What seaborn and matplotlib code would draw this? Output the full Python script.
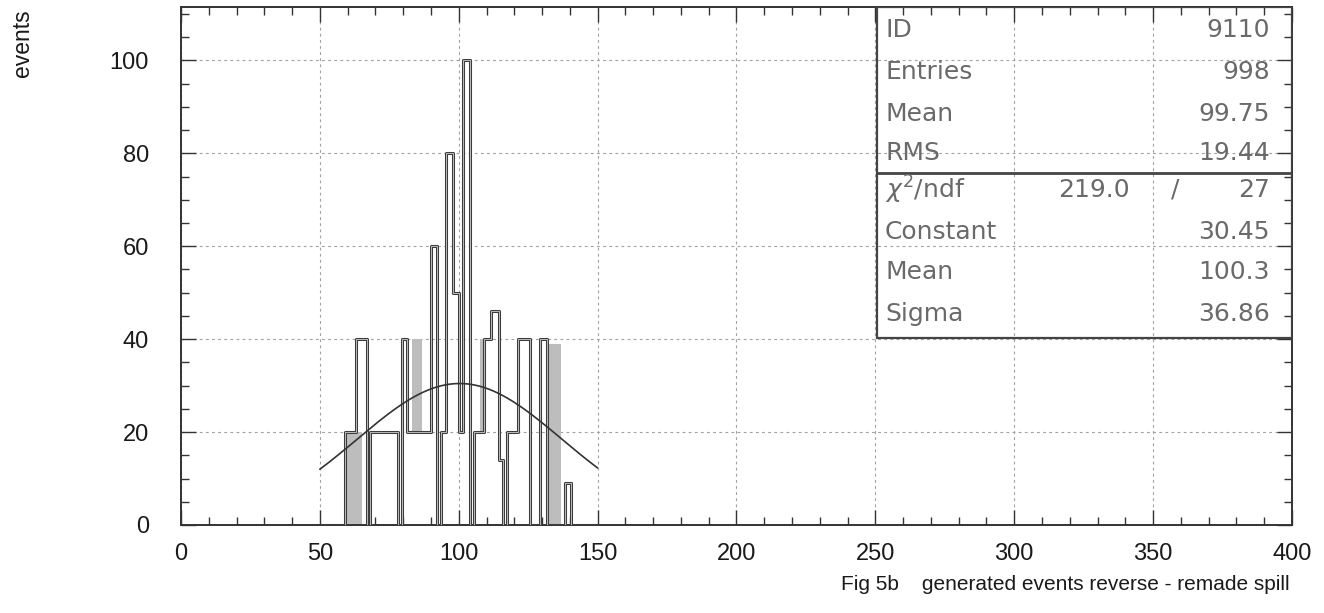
import numpy as np
import pandas as pd
import matplotlib
matplotlib.use("Agg")
import matplotlib.pyplot as plt
from matplotlib.patches import Rectangle
from matplotlib.ticker import MultipleLocator
import seaborn as sns

# ---------------- data ----------------
bin_edges = [50, 59, 63, 67, 68, 78, 79.5, 81.5, 90, 92, 93.5, 95.5, 98, 100,
             101.5, 104, 105.5, 109, 111.5, 114.5, 116, 117.5, 121.5, 125.5,
             129.3, 131.7, 138.2, 140.5, 150]
bin_counts = [0, 20, 40, 0, 20, 0, 40, 20, 60, 0, 20, 80, 50, 20, 100, 0,
              20, 40, 46, 14, 0, 20, 40, 0, 40, 0, 9, 0]

# dense (unresolved) regions that render as grey bands
band_start = [59, 83, 107.5, 131.7]
band_end = [65, 86.7, 109, 136.8]
band_low = [0, 20, 20, 0]
band_high = [20, 40, 40, 39]

# gaussian fit parameters (from the stats box)
fit_constant = 30.45
fit_mean = 100.3
fit_sigma = 36.86
fit_lo, fit_hi = 50, 150

stats_labels = ["ID", "Entries", "Mean", "RMS"]
stats_values = ["9110", "998", "99.75", "19.44"]
chi2_label = r"$\chi^2$/ndf"
chi2_value = "219.0"
ndf_value = "27"
fit_labels = ["Constant", "Mean", "Sigma"]
fit_values = ["30.45", "100.3", "36.86"]

x_ticks = [0, 50, 100, 150, 200, 250, 300, 350, 400]
y_ticks = [0, 20, 40, 60, 80, 100]
x_label = "Fig 5b    generated events reverse - remade spill"
y_label = "events"

# ---------------- plotting ----------------
sns.set_style("ticks")
plt.rcParams["font.family"] = ["Liberation Sans", "DejaVu Sans"]

fig = plt.figure(figsize=(13.24, 6.13), dpi=100)
ax = fig.add_axes([0.1367, 0.1436, 0.8391, 0.8450])

ax.set_xlim(0, 400)
ax.set_ylim(0, 111.5)

# grid
ax.set_xticks(x_ticks)
ax.set_yticks(y_ticks)
ax.grid(True, which="major", color="#a0a0a0", linestyle=(0, (2.5, 3)), linewidth=0.8)
ax.set_axisbelow(True)

# grey bands
bands = pd.DataFrame({"start": band_start, "end": band_end,
                      "low": band_low, "high": band_high})
ax.bar(bands["start"], bands["high"] - bands["low"], bottom=bands["low"],
       width=bands["end"] - bands["start"], align="edge",
       color="#bdbdbd", linewidth=0, zorder=2)

# histogram outline (double-line look)
edges = np.array(bin_edges)
centers = (edges[:-1] + edges[1:]) / 2
hist_df = pd.DataFrame({"x": centers, "w": bin_counts})
sns.histplot(data=hist_df, x="x", weights="w", bins=bin_edges, element="step",
             fill=False, color="#3c3c3c", linewidth=2.2, ax=ax, zorder=3)
sns.histplot(data=hist_df, x="x", weights="w", bins=bin_edges, element="step",
             fill=False, color="#d0d0d0", linewidth=0.6, ax=ax, zorder=4)

# gaussian fit curve
xf = np.linspace(fit_lo, fit_hi, 300)
yf = fit_constant * np.exp(-0.5 * ((xf - fit_mean) / fit_sigma) ** 2)
sns.lineplot(x=xf, y=yf, color="#333333", linewidth=1.2, ax=ax, zorder=5)

ax.set_xlim(0, 400)
ax.set_ylim(0, 111.5)
ax.set_xlabel("")
ax.set_ylabel("")

# ticks: inward on all four sides
ax.xaxis.set_minor_locator(MultipleLocator(10))
ax.yaxis.set_minor_locator(MultipleLocator(5))
ax.tick_params(which="both", direction="in", top=True, right=True,
               color="#333333", width=1.0)
ax.tick_params(which="major", length=11)
ax.tick_params(which="minor", length=6)
ax.tick_params(axis="y", which="major", pad=23, labelsize=17, labelcolor="#1a1a1a")
ax.tick_params(axis="x", which="major", pad=13, labelsize=17, labelcolor="#1a1a1a")
ax.set_xticklabels([str(t) for t in x_ticks])
ax.set_yticklabels([str(t) for t in y_ticks])
for s in ax.spines.values():
    s.set_color("#333333")
    s.set_linewidth(1.4)

# stats box
bx0, by0, by_sep = 0.6265, 0.361, 0.6795
ax.add_patch(Rectangle((bx0, by0), 1 - bx0, 1 - by0, transform=ax.transAxes,
                       fill=False, edgecolor="#444444", linewidth=1.6, zorder=6))
ax.plot([bx0, 1], [by_sep, by_sep], transform=ax.transAxes, color="#444444",
        linewidth=2.0, zorder=6)

box_font = dict(family=["DejaVu Sans"], fontsize=18, color="#6a6a6a",
                transform=ax.transAxes, va="center", zorder=7)
xl, xr = 0.6337, 0.980
upper_rows = [0.9556, 0.8745, 0.7934, 0.7181]
for lab, val, yy in zip(stats_labels, stats_values, upper_rows):
    ax.text(xl, yy, lab, ha="left", **box_font)
    ax.text(xr, yy, val, ha="right", **box_font)
ax.text(xl, 0.6467, chi2_label, ha="left", **box_font)
ax.text(0.854, 0.6467, chi2_value, ha="right", **box_font)
ax.text(0.895, 0.6467, "/", ha="center", **box_font)
ax.text(xr, 0.6467, ndf_value, ha="right", **box_font)
lower_rows = [0.5656, 0.4884, 0.4073]
for lab, val, yy in zip(fit_labels, fit_values, lower_rows):
    ax.text(xl, yy, lab, ha="left", **box_font)
    ax.text(xr, yy, val, ha="right", **box_font)

# axis titles
fig.text(0.017, 0.985, y_label, rotation=90, ha="center", va="top",
         fontsize=16.5, color="#1a1a1a")
fig.text(1290 / 1324, 1 - 585 / 613, x_label, ha="right", va="center",
         fontsize=15, color="#1a1a1a")

fig.savefig("out.png", dpi=100, facecolor="white")
